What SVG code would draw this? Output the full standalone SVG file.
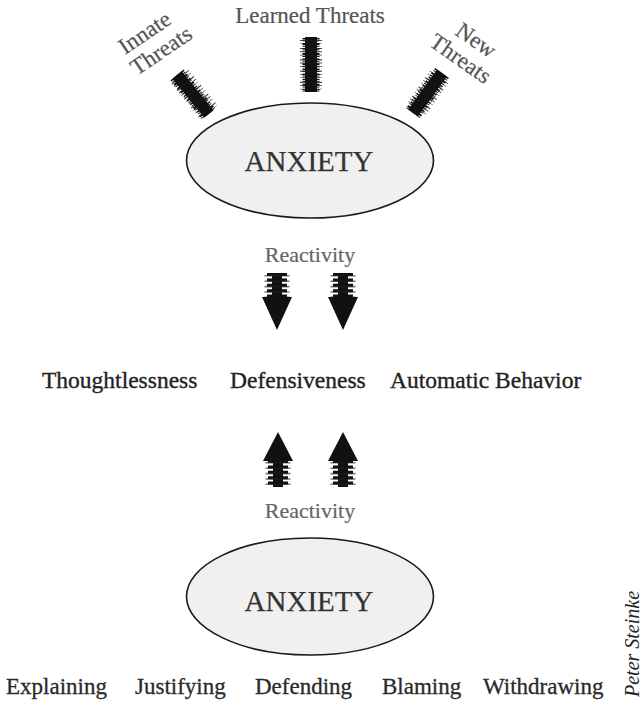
<svg xmlns="http://www.w3.org/2000/svg" width="644" height="704" viewBox="0 0 644 704">
<style>
  text { font-family: "Liberation Serif", "Times New Roman", serif; }
  .lbl { font-size: 23px; fill: #555; stroke: #555; stroke-width: 0.2; }
  .react { font-size: 22px; fill: #666; stroke: #666; stroke-width: 0.2; text-anchor: middle; }
  .mid { font-size: 23.5px; fill: #222; stroke: #222; stroke-width: 0.35; }
  .bot { font-size: 23px; fill: #2a2a2a; stroke: #2a2a2a; stroke-width: 0.3; }
  .anx { font-size: 29px; fill: #333; stroke: #333; stroke-width: 0.25; text-anchor: middle; }
  .ell { fill: #f0f0f0; stroke: #1a1a1a; stroke-width: 1.6; }
  .core { stroke: #111; stroke-width: 12; fill: none; }
  .fz1 { stroke: #111; stroke-width: 17; stroke-dasharray: 1.5 1 0.8 1.6 2 0.9 1 1.4; fill: none; }
  .fz2 { stroke: #1a1a1a; stroke-width: 22; stroke-dasharray: 0.9 2.6 0.6 3.8 1.2 2.2; fill: none; opacity: 0.8; }
  .shaft { stroke: #111; stroke-width: 10; fill: none; }
  .stripe { stroke: #111; stroke-width: 20; stroke-dasharray: 3 2.4; fill: none; }
  .stripe2 { stroke: #222; stroke-width: 25; stroke-dasharray: 1.6 3.8; fill: none; opacity: 0.6; }
  .head { fill: #111; }
</style>

<g id="anxiety-top">
  <ellipse class="ell" cx="310" cy="160.5" rx="123.5" ry="57.5"/>
  <text class="anx" x="309" y="171">ANXIETY</text>
</g>

<g id="innate-threats">
  <g transform="translate(125,55) rotate(-34)">
    <text class="lbl" x="0" y="0">Innate</text>
    <text class="lbl" x="-2" y="24">Threats</text>
  </g>
</g>

<g id="learned-threats">
  <text class="lbl" x="310" y="23" text-anchor="middle">Learned Threats</text>
</g>

<g id="new-threats">
  <g transform="translate(428,45) rotate(35)">
    <text class="lbl" x="15" y="-24">New</text>
    <text class="lbl" x="0" y="0">Threats</text>
  </g>
</g>

<g id="reactivity-top">
  <text class="react" x="310" y="262">Reactivity</text>
</g>

<g id="middle-row">
  <text class="mid" x="42" y="388">Thoughtlessness</text>
  <text class="mid" x="230" y="388">Defensiveness</text>
  <text class="mid" x="390" y="388">Automatic Behavior</text>
</g>

<g id="reactivity-bottom">
  <text class="react" x="310" y="518">Reactivity</text>
</g>

<g id="anxiety-bottom">
  <ellipse class="ell" cx="310" cy="596.5" rx="123.5" ry="58.5"/>
  <text class="anx" x="309" y="611">ANXIETY</text>
</g>

<g id="bottom-row">
  <text class="bot" x="6" y="694">Explaining</text>
  <text class="bot" x="135" y="694">Justifying</text>
  <text class="bot" x="255" y="694">Defending</text>
  <text class="bot" x="382" y="694">Blaming</text>
  <text class="bot" x="483" y="694">Withdrawing</text>
</g>

<g id="credit">
  <text x="639" y="697" transform="rotate(-90 639 697)" style="font-size:20px; font-style:italic; fill:#222;">Peter Steinke</text>
</g>

<g id="connectors">
  <!-- threat bars -->
  <line class="core" x1="177" y1="75" x2="209" y2="114"/>
  <line class="fz1" x1="177" y1="75" x2="209" y2="114"/>
  <line class="fz2" x1="180" y1="77" x2="209" y2="112"/>

  <line class="core" x1="311" y1="37" x2="311" y2="92"/>
  <line class="fz1" x1="311" y1="38" x2="311" y2="92"/>
  <line class="fz2" x1="311" y1="40" x2="311" y2="90"/>

  <line class="core" x1="442" y1="73" x2="413" y2="113"/>
  <line class="fz1" x1="442" y1="73" x2="413" y2="113"/>
  <line class="fz2" x1="439" y1="77" x2="415" y2="111"/>

  <!-- down arrows -->
  <line class="shaft" x1="277" y1="273" x2="277" y2="300"/>
  <line class="stripe" x1="277" y1="273" x2="277" y2="300"/>
  <line class="stripe2" x1="277" y1="275" x2="277" y2="298"/>
  <polygon class="head" points="262,297 292,297 277,330"/>
  <line class="shaft" x1="343" y1="273" x2="343" y2="300"/>
  <line class="stripe" x1="343" y1="273" x2="343" y2="300"/>
  <line class="stripe2" x1="343" y1="275" x2="343" y2="298"/>
  <polygon class="head" points="328,297 358,297 343,330"/>

  <!-- up arrows -->
  <line class="shaft" x1="278" y1="458" x2="278" y2="487"/>
  <line class="stripe" x1="278" y1="460" x2="278" y2="487"/>
  <line class="stripe2" x1="278" y1="462" x2="278" y2="485"/>
  <polygon class="head" points="263,461 293,461 278,432"/>
  <line class="shaft" x1="343" y1="458" x2="343" y2="487"/>
  <line class="stripe" x1="343" y1="460" x2="343" y2="487"/>
  <line class="stripe2" x1="343" y1="462" x2="343" y2="485"/>
  <polygon class="head" points="328,461 358,461 343,432"/>
</g>
</svg>
